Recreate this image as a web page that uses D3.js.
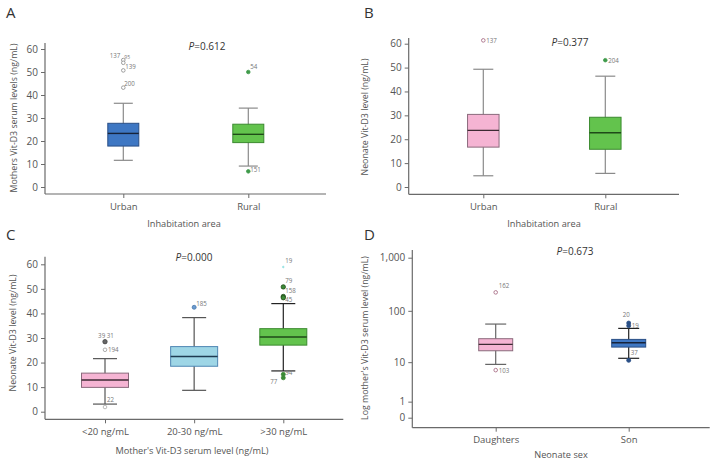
<!DOCTYPE html>
<html><head><meta charset="utf-8">
<script src="https://cdn.jsdelivr.net/npm/d3@7/dist/d3.min.js"></script>
<style>body{margin:0;background:#fff}</style>
</head><body><svg id="c" width="718" height="467"></svg>
<script>
// ---------- DATA ----------
const catsA = ["Urban", "Rural"];
const statsA = [[11.6, 17.8, 23.3, 27.7, 36.4], [9.1, 19.3, 22.9, 27.3, 34.3]]; // whiskerLow, Q1, median, Q3, whiskerHigh
const outA = [
  {c: "Urban", v: 55.2, l: "137"}, {c: "Urban", v: 54.0, l: "95"}, {c: "Urban", v: 50.7, l: "139"},
  {c: "Urban", v: 43.2, l: "200"}, {c: "Rural", v: 50.0, l: "54"}, {c: "Rural", v: 6.8, l: "151"}
];
const catsB = ["Urban", "Rural"];
const statsB = [[4.7, 16.7, 23.7, 30.4, 49.3], [5.7, 15.8, 22.7, 29.2, 46.4]];
const outB = [{c: "Urban", v: 61.4, l: "137"}, {c: "Rural", v: 53.1, l: "204"}];
const catsC = ["<20 ng/mL", "20-30 ng/mL", ">30 ng/mL"];
const statsC = [[3.1, 9.9, 12.9, 15.7, 21.6], [8.7, 18.5, 22.5, 26.5, 38.3], [16.6, 27.1, 30.4, 33.8, 44.0]];
const outC = [
  {c: "<20 ng/mL", v: 28.5, l: "39  31"}, {c: "<20 ng/mL", v: 25.2, l: "194"}, {c: "<20 ng/mL", v: 1.9, l: "22"},
  {c: "20-30 ng/mL", v: 42.5, l: "185"},
  {c: ">30 ng/mL", v: 58.9, l: "19"}, {c: ">30 ng/mL", v: 50.8, l: "79"}, {c: ">30 ng/mL", v: 46.9, l: "158"},
  {c: ">30 ng/mL", v: 46.4, l: "45"}, {c: ">30 ng/mL", v: 15.2, l: "94"}, {c: ">30 ng/mL", v: 13.8, l: "77"}
];
const catsD = ["Daughters", "Son"];
const statsD = [[9.0, 17.0, 22.7, 29.3, 56.0], [12.0, 20.1, 24.5, 28.4, 46.3]];
const outD = [
  {c: "Daughters", v: 223, l: "162"}, {c: "Daughters", v: 6.8, l: "103"},
  {c: "Son", v: 58.6, l: "20"}, {c: "Son", v: 52.1, l: "19"}, {c: "Son", v: 10.9, l: "37"}
];
const ticksLin = [0, 10, 20, 30, 40, 50, 60];
const ticksLog = [0, 1, 10, 100, 1000];
const pValues = ["0.612", "0.377", "0.000", "0.673"];

// ---------- STYLE / LAYOUT ----------
const FONT = "'Open Sans', 'Noto Sans', sans-serif";
const TXT = "#555";
const AX = "#6a6a6a";
const BLUE = {fill: "#3e77c3", stroke: "#2a4f86", med: "#16233a"};
const GREEN = {fill: "#63c34d", stroke: "#3b8a2f", med: "#1f4a18"};
const PINK = {fill: "#f5b4d3", stroke: "#8a6a7c", med: "#3d2a33"};
const LBLUE = {fill: "#9ed6e6", stroke: "#4f86b3", med: "#1e3b52"};

const svg = d3.select("#c");

function panel(cfg) {
  const g = svg.append("g");
  const y = cfg.y;
  const x = d3.scalePoint().domain(cfg.cats).range(cfg.catRange);

  g.append("text").attr("x", cfg.letter[0]).attr("y", cfg.letter[1]).text(cfg.letterText)
    .attr("font-family", FONT).attr("font-size", 15).attr("fill", "#333");

  g.append("line").attr("x1", cfg.x0).attr("x2", cfg.x0).attr("y1", cfg.top).attr("y2", cfg.bottom)
    .attr("stroke", AX).attr("stroke-width", 1.2);
  g.append("line").attr("x1", cfg.x0).attr("x2", cfg.xEnd).attr("y1", cfg.bottom).attr("y2", cfg.bottom)
    .attr("stroke", AX).attr("stroke-width", 1.2);

  const ya = d3.axisLeft(y).tickValues(cfg.ticks).tickSize(4).tickPadding(3);
  if (cfg.fmt) ya.tickFormat(cfg.fmt);
  const yg = g.append("g").attr("transform", `translate(${cfg.x0},0)`).call(ya);
  yg.select(".domain").remove();
  yg.selectAll("line").attr("stroke", AX);
  yg.selectAll("text").attr("font-family", FONT).attr("font-size", 10).attr("fill", TXT);

  const xa = d3.axisBottom(x).tickSize(4).tickPadding(5);
  const xg = g.append("g").attr("transform", `translate(0,${cfg.bottom})`).call(xa);
  xg.select(".domain").remove();
  xg.selectAll("line").attr("stroke", AX);
  xg.selectAll("text").attr("font-family", FONT).attr("font-size", 9.5).attr("fill", TXT);

  g.append("text").attr("x", cfg.xTitle[0]).attr("y", cfg.xTitle[1]).attr("text-anchor", "middle")
    .attr("font-family", FONT).attr("font-size", 9.2).attr("fill", TXT).text(cfg.xTitleText);
  g.append("text").attr("transform", `translate(${cfg.yTitle[0]},${cfg.yTitle[1]}) rotate(-90)`)
    .attr("text-anchor", "middle").attr("font-family", FONT).attr("font-size", 8.8).attr("fill", TXT)
    .text(cfg.yTitleText);

  const pt = g.append("text").attr("x", cfg.p[0]).attr("y", cfg.p[1]).attr("text-anchor", "middle")
    .attr("font-family", FONT).attr("font-size", 10).attr("fill", "#333");
  pt.append("tspan").attr("font-style", "italic").text("P");
  pt.append("tspan").text("=" + cfg.pText);

  cfg.cats.forEach((c, i) => {
    const s = cfg.stats[i];
    const cx = x(c);
    const col = cfg.colors[i];
    const bw = cfg.boxW, cw = cfg.capW;
    g.append("line").attr("x1", cx).attr("x2", cx).attr("y1", y(s[0])).attr("y2", y(s[4]))
      .attr("stroke", cfg.whisk[i]).attr("stroke-width", 1.2);
    [s[0], s[4]].forEach(v => g.append("line").attr("x1", cx - cw / 2).attr("x2", cx + cw / 2)
      .attr("y1", y(v)).attr("y2", y(v)).attr("stroke", cfg.whisk[i]).attr("stroke-width", 1.2));
    g.append("rect").attr("x", cx - bw / 2).attr("width", bw).attr("y", y(s[3])).attr("height", y(s[1]) - y(s[3]))
      .attr("fill", col.fill).attr("stroke", col.stroke).attr("stroke-width", 1);
    g.append("line").attr("x1", cx - bw / 2).attr("x2", cx + bw / 2).attr("y1", y(s[2])).attr("y2", y(s[2]))
      .attr("stroke", col.med).attr("stroke-width", 1.4);
  });

  cfg.out.forEach(o => {
    const st = cfg.outStyle[o.l] || {};
    const cx = x(o.c), cy = y(o.v);
    g.append("circle").attr("cx", cx).attr("cy", cy).attr("r", st.r || 1.8)
      .attr("fill", st.fill || "#fff").attr("stroke", st.stroke || "#888").attr("stroke-width", 0.8);
    const off = cfg.lblOff[o.l] || [3, 2];
    g.append("text").attr("x", cx + off[0]).attr("y", cy + off[1])
      .attr("text-anchor", off[2] || "start")
      .attr("font-family", FONT).attr("font-size", off[3] || 6.2).attr("fill", "#777").text(o.l);
  });
}

const lin = (r) => d3.scaleLinear().domain([0, 60]).range(r);

panel({
  letterText: "A", letter: [6, 18], cats: catsA, stats: statsA, out: outA,
  y: lin([187, 49]), ticks: ticksLin, x0: 45, top: 43, bottom: 194, xEnd: 326, catRange: [123.3, 248.3],
  boxW: 31, capW: 19, colors: [BLUE, GREEN], whisk: ["#8a8a8a", "#8a8a8a"],
  xTitle: [184, 227], xTitleText: "Inhabitation area",
  yTitle: [17, 118], yTitleText: "Mothers Vit-D3 serum levels (ng/mL)",
  p: [207, 50], pText: pValues[0],
  outStyle: {"54": {fill: "#3f9a4a", stroke: "#3f9a4a"}, "151": {fill: "#3f9a4a", stroke: "#3f9a4a"}},
  lblOff: {"137": [-3, -2.5, "end"], "95": [1, -3.5, "start", 5], "139": [2, -1.5], "200": [1, -2], "54": [2, -3], "151": [2, 1]}
});

panel({
  letterText: "B", letter: [364, 18], cats: catsB, stats: statsB, out: outB,
  y: lin([187, 43.7]), ticks: ticksLin, x0: 408.7, top: 38, bottom: 194.3, xEnd: 679, catRange: [483.3, 605.3],
  boxW: 31.5, capW: 20, colors: [PINK, GREEN], whisk: ["#8a8a8a", "#8a8a8a"],
  xTitle: [544, 227], xTitleText: "Inhabitation area",
  yTitle: [368, 117], yTitleText: "Neonate Vit-D3 level (ng/mL)",
  p: [570, 46], pText: pValues[1],
  outStyle: {"137": {stroke: "#a0607a"}, "204": {fill: "#3f9a4a", stroke: "#3f9a4a"}},
  lblOff: {"137": [3, 2.5], "204": [3, 3]}
});

panel({
  letterText: "C", letter: [6, 240], cats: catsC, stats: statsC, out: outC,
  y: lin([411.7, 264.3]), ticks: ticksLin, x0: 45, top: 256.7, bottom: 419.3, xEnd: 343.3, catRange: [105, 283.3],
  boxW: 47, capW: 24, colors: [PINK, LBLUE, GREEN], whisk: ["#555", "#555", "#222"],
  xTitle: [192, 454], xTitleText: "Mother's Vit-D3 serum level (ng/mL)",
  yTitle: [16, 333], yTitleText: "Neonate Vit-D3 level (ng/mL)",
  p: [194, 261], pText: pValues[2],
  outStyle: {
    "39  31": {fill: "#666", stroke: "#444", r: 2.2}, "194": {stroke: "#999"}, "22": {stroke: "#aaa"},
    "185": {fill: "#6a9bd0", stroke: "#4a78aa", r: 2}, "19": {fill: "#8fe0e0", stroke: "#8fe0e0", r: 0.8},
    "79": {fill: "#3b8a35", stroke: "#1f4a18", r: 2.2}, "158": {fill: "#3b8a35", stroke: "#1f4a18", r: 2.2},
    "45": {fill: "#3b8a35", stroke: "#1f4a18", r: 2.2}, "94": {fill: "#3b8a35", stroke: "#3b8a35", r: 2},
    "77": {fill: "#3b8a35", stroke: "#3b8a35", r: 2}
  },
  lblOff: {"39  31": [1, -4, "middle"], "194": [3, 2], "22": [2, -5], "185": [2, -1], "19": [2, -4],
    "79": [2, -4], "158": [2, -3], "45": [2, 4], "94": [2, 1], "77": [-6, 6, "end"]}
});

panel({
  letterText: "D", letter: [364, 240], cats: catsD, stats: statsD, out: outD,
  y: d3.scaleSymlog().constant(1).domain([0, 1000]).range([417.7, 257.7]), ticks: ticksLog,
  fmt: d3.format(","), x0: 412.3, top: 250, bottom: 427.7, xEnd: 709.7, catRange: [495.7, 628.7],
  boxW: 34, capW: 21, colors: [PINK, BLUE], whisk: ["#666", "#222"],
  xTitle: [561, 458], xTitleText: "Neonate sex",
  yTitle: [368, 338], yTitleText: "Log mother's Vit-D3 serum level (ng/mL)",
  p: [575, 255], pText: pValues[3],
  outStyle: {"162": {stroke: "#a0607a"}, "103": {stroke: "#a0607a"},
    "20": {fill: "#2a4f86", stroke: "#2a4f86", r: 2}, "19": {fill: "#2a4f86", stroke: "#2a4f86", r: 2},
    "37": {fill: "#2a4f86", stroke: "#2a4f86", r: 2}},
  lblOff: {"162": [3, -4], "103": [3, 3], "20": [-6, -6], "19": [3, 2], "37": [2, -5]}
});
</script></body></html>
